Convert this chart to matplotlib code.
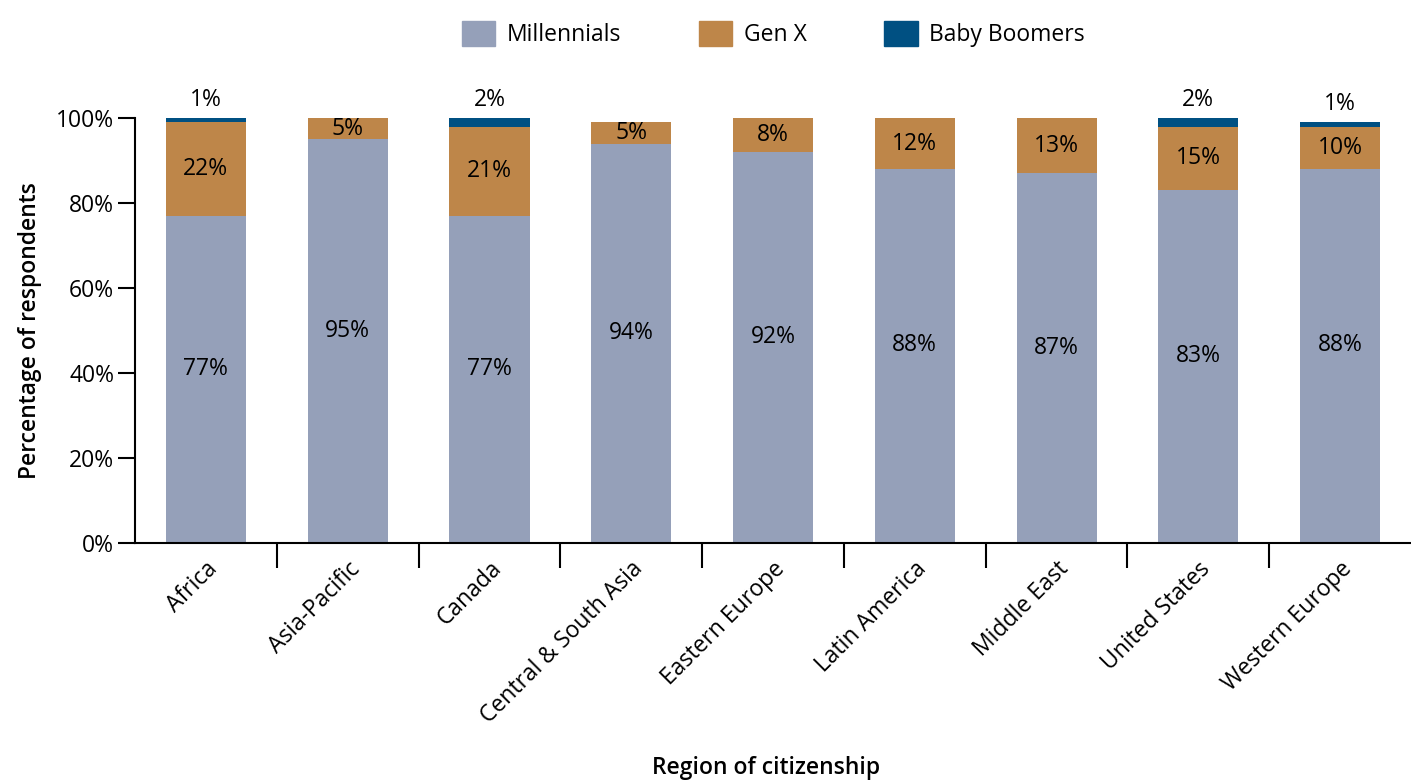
import numpy as np
import matplotlib.pyplot as plt
from matplotlib.patches import Patch

regions = ["Africa", "Asia-Pacific", "Canada", "Central & South Asia", "Eastern Europe",
           "Latin America", "Middle East", "United States", "Western Europe"]
millennials = [77, 95, 77, 94, 92, 88, 87, 83, 88]
gen_x = [22, 5, 21, 5, 8, 12, 13, 15, 10]
boomers = [1, 0, 2, 0, 0, 0, 0, 2, 1]

c_mil = "#95a0b9"
c_genx = "#be8649"
c_boom = "#005082"

plt.rcParams['font.family'] = ['Open Sans', 'DejaVu Sans']
fs = 16.5

fig = plt.figure(figsize=(14.11, 7.8), dpi=100)
ax = fig.add_axes([0.0957, 0.3038, 0.9043, 0.5449])

x = np.arange(len(regions))
mil = np.array(millennials)
gx = np.array(gen_x)
bb = np.array(boomers)

ax.bar(x, mil, width=0.565, color=c_mil)
ax.bar(x, gx, width=0.565, bottom=mil, color=c_genx)
ax.bar(x, bb, width=0.565, bottom=mil + gx, color=c_boom)

for i in range(len(regions)):
    ax.text(x[i], mil[i] / 2 + 2.5, f"{mil[i]}%", ha="center", va="center", fontsize=fs,
            fontweight="medium")
    ax.text(x[i], mil[i] + gx[i] / 2, f"{gx[i]}%", ha="center", va="center", fontsize=fs,
            fontweight="medium")
    if bb[i] > 0:
        ax.text(x[i], mil[i] + gx[i] + bb[i] + 1.5, f"{bb[i]}%", ha="center", va="bottom",
                fontsize=fs, fontweight="medium", clip_on=False)

ax.set_xlim(-0.5, len(regions) - 0.5)
ax.set_ylim(0, 100)
ax.set_yticks([0, 20, 40, 60, 80, 100])
ax.set_yticklabels([f"{v}%" for v in range(0, 101, 20)], fontsize=fs)
ax.tick_params(axis="y", length=12, width=1.5, pad=3)

ax.set_xticks(x)
ax.set_xticklabels(regions, rotation=45, ha="right", rotation_mode="anchor", fontsize=fs)
ax.tick_params(axis="x", length=0, pad=10)
ax.set_xticks(np.arange(0.5, len(regions) - 0.5, 1), minor=True)
ax.tick_params(axis="x", which="minor", length=18, width=1.5)

for s in ["top", "right"]:
    ax.spines[s].set_visible(False)
ax.spines["left"].set_linewidth(1.5)
ax.spines["bottom"].set_linewidth(1.5)

ax.set_ylabel("Percentage of respondents", fontsize=fs, fontweight="semibold", labelpad=10)
fig.text(0.543, 0.0, "Region of citizenship", ha="center", va="bottom", fontsize=fs,
         fontweight="semibold")

handles = [Patch(color=c_mil, label="Millennials"),
           Patch(color=c_genx, label="Gen X"),
           Patch(color=c_boom, label="Baby Boomers")]
fig.legend(handles=handles, loc="upper center", bbox_to_anchor=(0.548, 1.0), ncol=3,
           frameon=False, fontsize=fs, handlelength=1.45, handleheight=1.35,
           columnspacing=3.4, handletextpad=0.5)

fig.savefig("out.png", dpi=100)
